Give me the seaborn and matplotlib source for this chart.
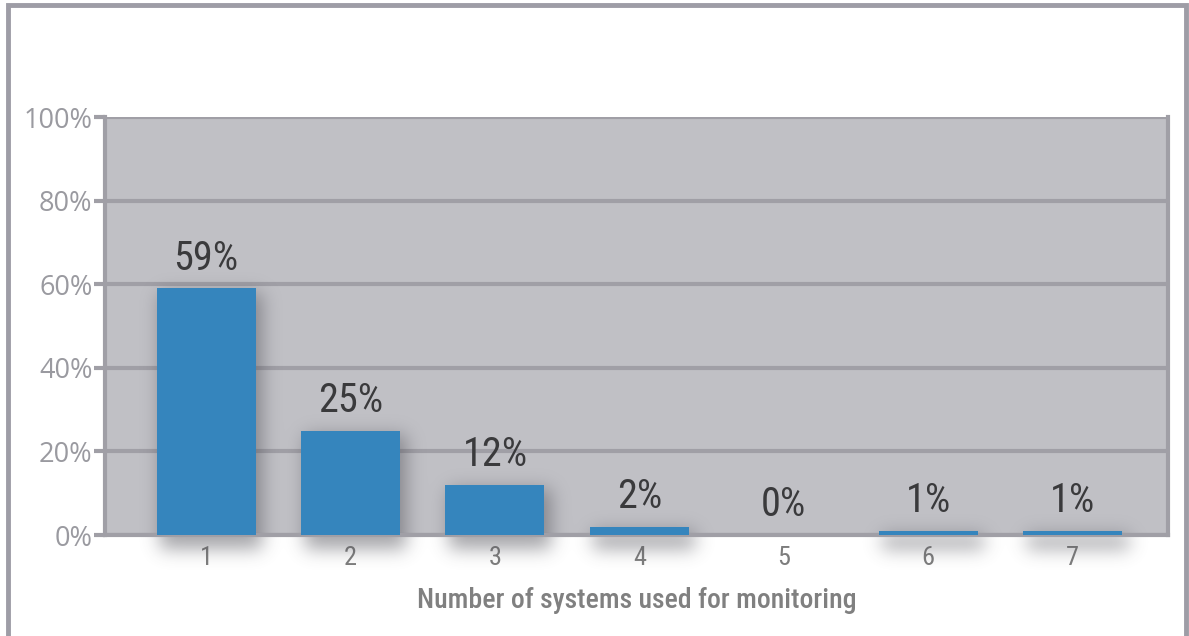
import matplotlib
matplotlib.use("Agg")
import matplotlib.pyplot as plt
import matplotlib.patches as mpatches
import numpy as np
import seaborn as sns
import pandas as pd

systems = ["1", "2", "3", "4", "5", "6", "7"]
shares = [59, 25, 12, 2, 0, 1, 1]
y_ticks = [0, 20, 40, 60, 80, 100]
x_title = "Number of systems used for monitoring"

df = pd.DataFrame({"systems": systems, "share": shares})

sns.set_theme(style="white")
narrow = ["Roboto Condensed", "DejaVu Sans"]
plt.rcParams["font.family"] = narrow

frame_gray = "#9e9da6"
grid_gray = "#a09fa6"
bar_blue = "#3585bd"

W, H = 1189, 636
fig = plt.figure(figsize=(W / 100, H / 100), dpi=100)
fig.patch.set_facecolor("white")

# outer panel border
fig.add_artist(mpatches.Rectangle((8 / W, -0.05), 1178 / W, 1 - 5 / H + 0.05,
                                  transform=fig.transFigure, fill=False,
                                  edgecolor=frame_gray, linewidth=3.5))

ax = fig.add_axes([105 / W, 101 / H, 1063 / W, 418 / H])
ax.set_facecolor("#c0c0c5")

sns.barplot(data=df, x="systems", y="share", color=bar_blue, saturation=1,
            width=0.685, ax=ax, zorder=3, linewidth=0)

ax.set_ylim(0, 100)
ax.set_xlim(-0.7, 6.66)

ax.set_yticks(y_ticks)
ax.set_yticklabels([f"{v}%" for v in y_ticks])
ax.yaxis.grid(True, color=grid_gray, linewidth=3, zorder=1)
ax.set_axisbelow(True)

for s in ["left", "right", "bottom"]:
    ax.spines[s].set_visible(True)
    ax.spines[s].set_color(grid_gray)
    ax.spines[s].set_linewidth(3)
ax.spines["top"].set_visible(False)

ax.tick_params(axis="y", which="both", left=True, length=8, width=3, color=grid_gray,
               labelsize=19.5, labelcolor="#9a9aa0", pad=1, labelfontfamily="Open Sans")
ax.tick_params(axis="x", bottom=False, labelsize=19, labelcolor="#7d7d7d", pad=2)

for i, v in enumerate(shares):
    ax.text(i, v + 2.6, f"{v}%", ha="center", va="bottom", fontsize=29,
            color="#3a3a3c", zorder=4)

ax.set_xlabel(x_title, fontsize=20, color="#808080", fontweight="medium", labelpad=12)
ax.set_ylabel("")

# soft blurred drop shadow built from the rendered bar extents
fig.canvas.draw()
mask = np.zeros((H, W))
for bar in ax.patches:
    if bar.get_height() <= 0:
        continue
    bb = bar.get_window_extent()
    x0, x1 = int(bb.x0) + 4, int(bb.x1) + 7
    y0, y1 = int(bb.y0) - 14, int(bb.y1) - 4
    mask[max(H - y1, 0):H - y0, x0:x1] = 1.0

sigma = 9.0
r = np.arange(-int(3 * sigma), int(3 * sigma) + 1)
kern = np.exp(-0.5 * (r / sigma) ** 2)
kern /= kern.sum()
blur = np.apply_along_axis(lambda v: np.convolve(v, kern, mode="same"), 1, mask)
blur = np.apply_along_axis(lambda v: np.convolve(v, kern, mode="same"), 0, blur)

shadow = np.zeros((H, W, 4))
shadow[..., :3] = (0.30, 0.30, 0.33)
shadow[..., 3] = np.clip(blur, 0, 1) * 0.5
ax.imshow(shadow, extent=[0, 1, 0, 1], transform=fig.transFigure, aspect="auto",
          zorder=2.5, clip_on=False, interpolation="bilinear")
ax.set_ylim(0, 100)
ax.set_xlim(-0.7, 6.66)

fig.savefig("out.png", dpi=100, facecolor="white")
